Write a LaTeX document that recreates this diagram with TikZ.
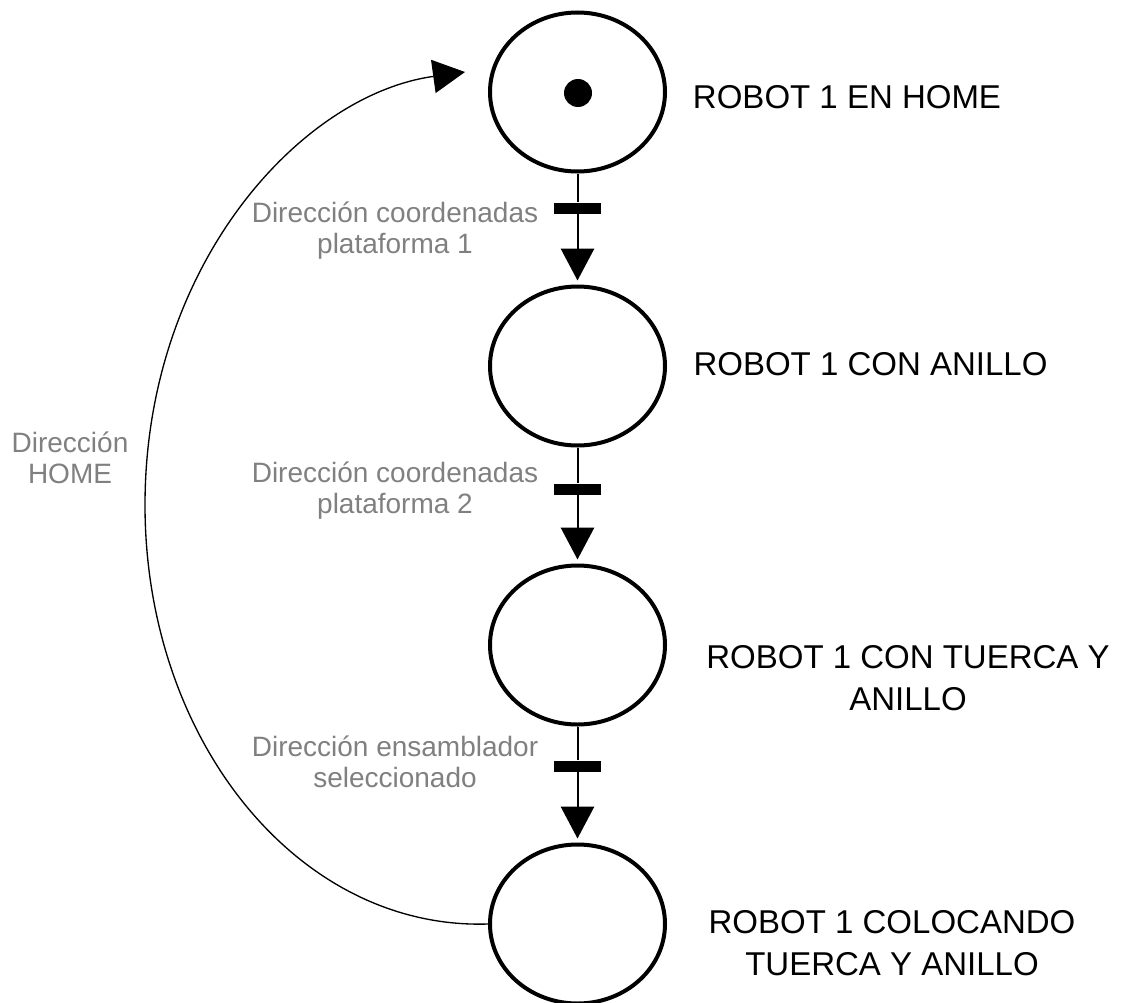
\documentclass[tikz,border=0pt]{standalone}
\usepackage{fontspec}
\setmainfont{Liberation Sans}
\usetikzlibrary{arrows.meta,shapes.geometric}
\definecolor{labelgray}{RGB}{128,128,128}
\begin{document}
\begin{tikzpicture}[x=0.75pt,y=-0.75pt,
  place/.style={draw,ellipse,line width=3pt,inner sep=0pt,
    minimum width=131.25pt,minimum height=119.25pt},
  token/.style={circle,fill=black,inner sep=0pt,minimum size=21pt},
  bar/.style={rectangle,fill=black,inner sep=0pt,
    minimum width=35.25pt,minimum height=8.25pt},
  flow/.style={line width=1.5pt,-{Triangle[length=24pt,width=25pt]},shorten >=3pt},
  back/.style={line width=1pt,-{Triangle[length=24pt,width=25pt]}},
  statetext/.style={align=center,anchor=base,inner sep=0pt,
    font=\fontsize{24.75pt}{31.5pt}\selectfont},
  guard/.style={align=center,anchor=base,inner sep=0pt,text=labelgray,
    font=\fontsize{21pt}{23.25pt}\selectfont}]
\useasboundingbox (0,0) rectangle (1121,1003);

% places
\node[place] (p1) at (577.5,92) {};
\node[place] (p2) at (577.5,366) {};
\node[place] (p3) at (577.5,645) {};
\node[place] (p4) at (577.5,924) {};
\node[token] (tok) at (578,93) {};

% transitions
\node[bar] (t1) at (577.5,208) {};
\node[bar] (t2) at (577.5,489) {};
\node[bar] (t3) at (577.5,766) {};

\draw[flow] (p1.south) -- (t1) -- (p2.north);
\draw[flow] (p2.south) -- (t2) -- (p3.north);
\draw[flow] (p3.south) -- (t3) -- (p4.north);

% return arc to the initial place
\coordinate (ret) at (465,72);
\draw[back] (p4.west) .. controls (298,930) and (145,740) .. (145,505)
  .. controls (145,266) and (300,95) .. (ret);

% state descriptions (anchored on the baseline of the last line)
\node[statetext] (s1) at (847,108) {ROBOT 1 EN HOME};
\node[statetext] (s2) at (870.5,375) {ROBOT 1 CON ANILLO};
\node[statetext] (s3) at (908,710) {ROBOT 1 CON TUERCA Y\\ANILLO};
\node[statetext] (s4) at (892,975) {ROBOT 1 COLOCANDO\\TUERCA Y ANILLO};

% transition labels
\node[guard] (g1) at (395,253) {Dirección coordenadas\\plataforma 1};
\node[guard] (g2) at (395,513) {Dirección coordenadas\\plataforma 2};
\node[guard] (g3) at (395,787) {Dirección ensamblador\\seleccionado};
\node[guard] (g4) at (70,483) {Dirección\\HOME};
\end{tikzpicture}
\end{document}
